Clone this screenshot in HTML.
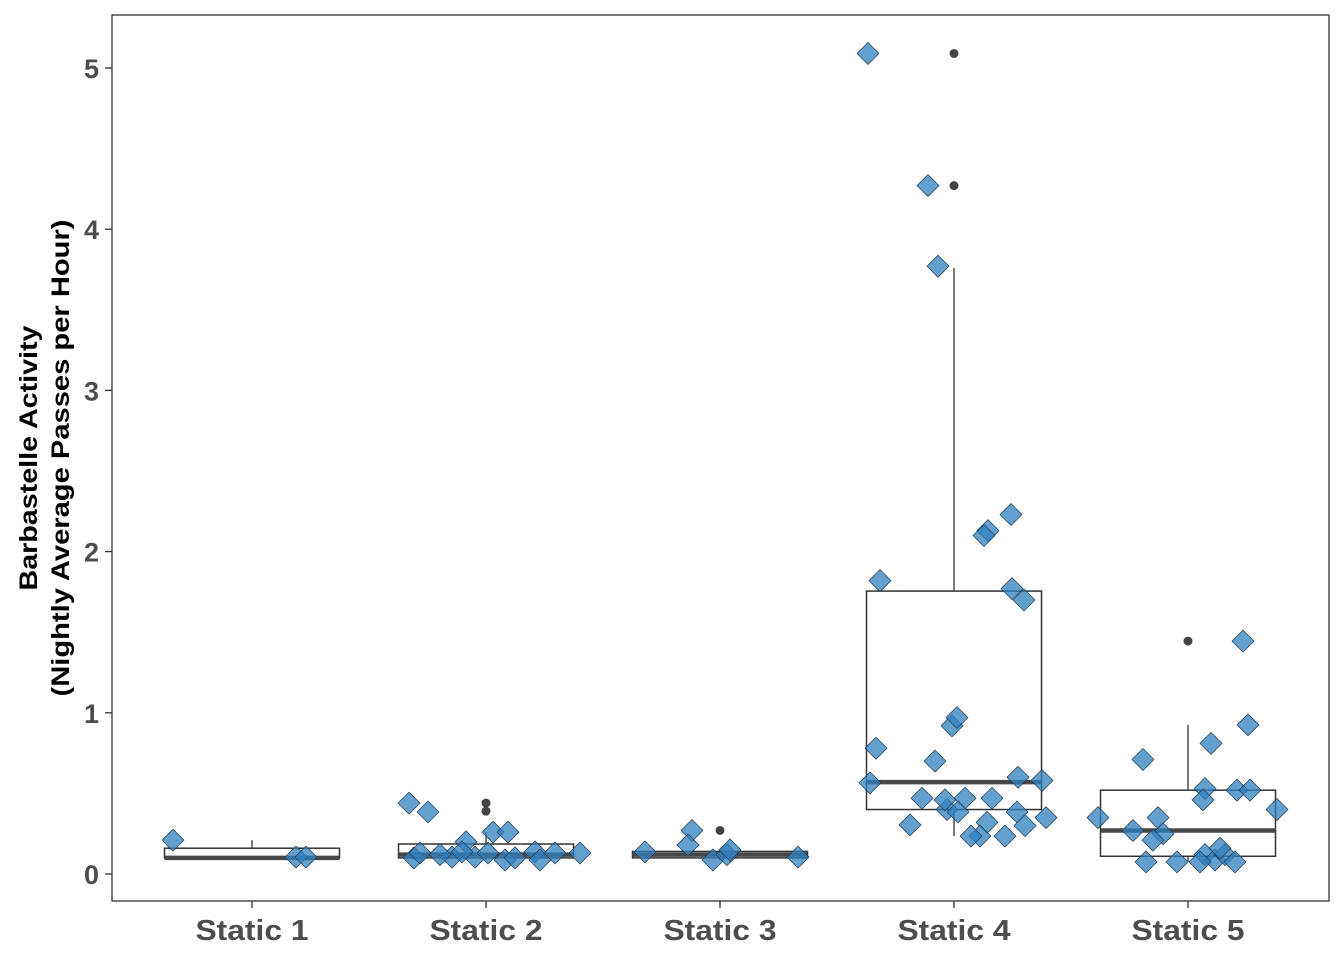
<!DOCTYPE html>
<html><head><meta charset="utf-8"><style>
html,body{margin:0;padding:0;background:#fff;}
svg{display:block;font-family:"Liberation Sans",Arial,sans-serif;}
</style></head><body>
<svg id="chart" width="1344" height="960"></svg>
<script>
const categories=["Static 1","Static 2","Static 3","Static 4","Static 5"];
const q1=[0.10,0.10,0.10,0.40,0.11];
const med=[0.10,0.12,0.12,0.57,0.27];
const q3=[0.16,0.186,0.14,1.755,0.52];
const whiskLo=[0.10,0.087,0.087,0.235,0.075];
const whiskHi=[0.21,0.26,0.15,3.76,0.925];
const outlierCat=[1,1,2,3,3,4];
const outlierVal=[0.44,0.39,0.27,5.09,4.27,1.445];
const pointCat=[0,0,0,
1,1,1,1,1,1,1,1,1,1,1,1,1,1,1,1,1,1,
2,2,2,2,2,2,2,
3,3,3,3,3,3,3,3,3,3,3,3,3,3,3,3,3,3,3,3,3,3,3,3,3,3,3,3,3,3,
4,4,4,4,4,4,4,4,4,4,4,4,4,4,4,4,4,4,4,4,4,4];
const pointJit=[-79,44,54,
-77,-58,-72,-66,-34,-20,-11,7,22,2,19,29,49,54,69,94,-24,-46,
-75,-28,-32,-7,7,10,78,
-86,-26,-16,57,34,30,-74,58,70,-78,-2,3,-19,64,88,-84,-32,-7,11,38,-9,4,33,92,63,71,-44,26,51,17];
const pointVal=[0.21,0.105,0.105,
0.44,0.385,0.10,0.13,0.105,0.20,0.105,0.26,0.26,0.13,0.087,0.10,0.137,0.087,0.13,0.13,0.137,0.12,
0.137,0.27,0.18,0.087,0.12,0.15,0.105,
5.09,4.27,3.77,2.23,2.13,2.10,1.82,1.77,1.70,0.78,0.92,0.97,0.70,0.60,0.58,0.565,0.47,0.40,0.47,0.47,0.46,0.385,0.32,0.35,0.385,0.30,0.305,0.235,0.235,0.235];
const p5Jit=[55,60,23,-45,17,49,62,15,89,-90,-30,-55,-25,-35,-42,-11,17,27,37,47,12,32];
const p5Val=[1.445,0.925,0.81,0.71,0.53,0.52,0.52,0.46,0.40,0.35,0.35,0.27,0.25,0.21,0.075,0.075,0.12,0.087,0.12,0.075,0.075,0.16];
p5Val.forEach((v,i)=>{pointCat.push(4);pointVal.push(v);pointJit.push(p5Jit[i]);});
const yTicks=[0,1,2,3,4,5];

const NS="http://www.w3.org/2000/svg";
const svg=document.getElementById('chart');
const L=112,R=1329,T=15,B=901;
const y=v=>874-v*161.2;
const x=i=>252+i*234;
const HW=87.5;
function mk(tag,attrs,parent){const e=document.createElementNS(NS,tag);for(const k in attrs)e.setAttribute(k,attrs[k]);(parent||svg).appendChild(e);return e;}

const frame=mk('rect',{x:L,y:T,width:R-L,height:B-T,fill:'none',stroke:'#333','stroke-width':1.3});



yTicks.forEach(t=>{
  const tk=mk('line',{x1:105,x2:L,y1:y(t),y2:y(t),stroke:'#333','stroke-width':1.3});
  
  
  const lb=mk('text',{x:99,y:y(t)+10,'text-anchor':'end','font-size':27,'font-weight':'bold',fill:'#4d4d4d'});
  lb.textContent=t;
  
  
});
categories.forEach((c,i)=>{
  const tk=mk('line',{x1:x(i),x2:x(i),y1:B,y2:B+7,stroke:'#333','stroke-width':1.3});
  
  
  const lb=mk('text',{x:x(i),y:940,'text-anchor':'middle','font-size':29,'font-weight':'bold',fill:'#4d4d4d',textLength:113,lengthAdjust:'spacingAndGlyphs'});
  lb.textContent=c;
  
  
  const g=mk('g',{});
  
  
  mk('line',{x1:x(i),x2:x(i),y1:y(q3[i]),y2:y(whiskHi[i]),stroke:'#333','stroke-width':1.3},g);
  mk('line',{x1:x(i),x2:x(i),y1:y(q1[i]),y2:y(whiskLo[i]),stroke:'#333','stroke-width':1.3},g);
  mk('rect',{x:x(i)-HW,y:y(q3[i]),width:2*HW,height:Math.max(0,y(q1[i])-y(q3[i])),fill:'#fff',stroke:'#333','stroke-width':1.5},g);
  mk('line',{x1:x(i)-HW,x2:x(i)+HW,y1:y(med[i]),y2:y(med[i]),stroke:'#474747','stroke-width':4.5},g);
});
outlierCat.forEach((c,i)=>{
  const o=mk('circle',{cx:x(c),cy:y(outlierVal[i]),r:4.5,fill:'#444'});
  
  
});
pointCat.forEach((c,i)=>{
  const cx=x(c)+pointJit[i],cy=y(pointVal[i]),s=11;
  const p=mk('polygon',{points:`${cx},${cy-s} ${cx+s},${cy} ${cx},${cy+s} ${cx-s},${cy}`,fill:'rgba(48,128,190,0.75)',stroke:'#1f3a55','stroke-width':0.7});
  
  
});
const yt=mk('text',{transform:'translate(37,458) rotate(-90)','text-anchor':'middle','font-size':25,'font-weight':'bold',fill:'#000'});


const t1=mk('tspan',{x:0,dy:0,textLength:265,lengthAdjust:'spacingAndGlyphs'},yt);t1.textContent='Barbastelle Activity';
const t2=mk('tspan',{x:0,dy:32,textLength:477,lengthAdjust:'spacingAndGlyphs'},yt);t2.textContent='(Nightly Average Passes per Hour)';
</script>
</body></html>
